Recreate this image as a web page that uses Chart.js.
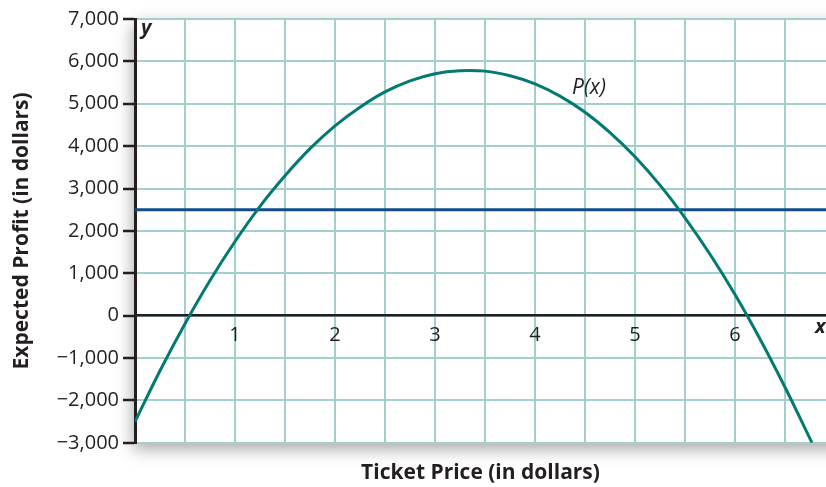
<!DOCTYPE html>
<html>
<head>
<meta charset="utf-8">
<script src="https://cdn.jsdelivr.net/npm/chart.js@4"></script>
<style>
    html, body { margin: 0; padding: 0; background: #fff; }
    #wrap { width: 826px; height: 487px; }
</style>
</head>
<body>
<div id="wrap"><canvas id="profitChart" width="826" height="487"></canvas></div>
<script>
// Values
const ticketPrice = [0, 0.25, 0.5, 0.75, 1, 1.25, 1.5, 1.75, 2, 2.25, 2.5, 2.75, 3, 3.25, 3.5, 3.75, 4, 4.25, 4.5, 4.75, 5, 5.25, 5.5, 5.75, 6, 6.25, 6.5, 6.77];
const expectedProfit = [-2500, -1300, -190, 830, 1750, 2580, 3300, 3940, 4480, 4920, 5280, 5540, 5710, 5780, 5770, 5660, 5470, 5180, 4800, 4320, 3750, 3080, 2310, 1450, 500, -550, -1690, -3000];
const targetProfit = 2500;
const xRange = [0, 6.91];
const xTickValues = [1, 2, 3, 4, 5, 6];
const xTickLabels = ['1', '2', '3', '4', '5', '6'];
const yTickValues = [-3000, -2000, -1000, 0, 1000, 2000, 3000, 4000, 5000, 6000, 7000];
const yTickLabels = ['\u22123,000', '\u22122,000', '\u22121,000', '0', '1,000', '2,000', '3,000', '4,000', '5,000', '6,000', '7,000'];

const INK = '#231f20';
const GRID = '#a2cfcb';
const TEAL = '#037a71';
const BLUE = '#0f4e8b';
const FONT = "'Open Sans', sans-serif";

// grey drop shadow behind the plot panel
const panelShadow = {
    id: 'panelShadow',
    beforeDraw(chart) {
        const { ctx, chartArea: a } = chart;
        ctx.save();
        ctx.shadowColor = 'rgba(0,0,0,0.35)';
        ctx.shadowBlur = 16;
        ctx.shadowOffsetX = -2;
        ctx.shadowOffsetY = 6;
        ctx.fillStyle = '#fff';
        ctx.fillRect(a.left, a.top, a.right - a.left + 30, a.bottom - a.top);
        ctx.restore();
    }
};

// axis letters and curve name
const curveLabels = {
    id: 'curveLabels',
    afterDatasetsDraw(chart) {
        const { ctx, scales: { x, y } } = chart;
        ctx.save();
        ctx.fillStyle = INK;
        ctx.textBaseline = 'alphabetic';
        ctx.font = `italic 21px ${FONT}`;
        ctx.fillText('P(x)', x.getPixelForValue(4.37), y.getPixelForValue(5240));
        ctx.font = `italic bold 20px ${FONT}`;
        ctx.fillText('y', x.getPixelForValue(0.06), y.getPixelForValue(6650));
        ctx.fillText('x', x.getPixelForValue(6.8), y.getPixelForValue(-400));
        ctx.restore();
    }
};

new Chart(document.getElementById('profitChart'), {
    type: 'line',
    data: {
        datasets: [
            {
                data: ticketPrice.map((p, i) => ({ x: p, y: expectedProfit[i] })),
                borderColor: TEAL,
                borderWidth: 3,
                pointRadius: 0,
                tension: 0.4
            },
            {
                data: xRange.map(p => ({ x: p, y: targetProfit })),
                borderColor: BLUE,
                borderWidth: 3,
                pointRadius: 0
            }
        ]
    },
    options: {
        responsive: false,
        animation: false,
        layout: { padding: { top: 19, right: 0, bottom: 0, left: 0 } },
        plugins: {
            legend: { display: false },
            tooltip: { enabled: false },
            title: {
                display: true,
                position: 'bottom',
                fullSize: false,
                text: 'Ticket Price (in dollars)',
                color: INK,
                font: { family: FONT, size: 21, weight: 'bold' },
                padding: { top: 18, bottom: 1 }
            }
        },
        scales: {
            x: {
                type: 'linear',
                min: xRange[0],
                max: xRange[1],
                position: { y: 0 },
                afterFit(s) { s.height = 0; },
                ticks: {
                    stepSize: 0.5,
                    includeBounds: false,
                    autoSkip: false,
                    maxRotation: 0,
                    padding: 8,
                    color: INK,
                    font: { family: FONT, size: 20 },
                    callback: v => {
                        const i = xTickValues.indexOf(v);
                        return i >= 0 ? xTickLabels[i] : '';
                    }
                },
                grid: { color: GRID, lineWidth: 2, drawTicks: false },
                border: { color: INK, width: 2.5 }
            },
            y: {
                min: -3000,
                max: 7000,
                afterFit(s) { s.width = 135; },
                ticks: {
                    stepSize: 1000,
                    padding: 4,
                    color: INK,
                    font: { family: FONT, size: 20 },
                    callback: v => {
                        const i = yTickValues.indexOf(v);
                        return i >= 0 ? yTickLabels[i] : '';
                    }
                },
                grid: { color: GRID, lineWidth: 2, tickColor: INK, tickLength: 12, tickWidth: 2.5 },
                border: { color: INK, width: 3 },
                title: {
                    display: true,
                    text: 'Expected Profit (in dollars)',
                    color: INK,
                    font: { family: FONT, size: 21, weight: 'bold' },
                    padding: { top: 9, bottom: 0 }
                }
            }
        }
    },
    plugins: [panelShadow, curveLabels]
});
</script>
</body>
</html>
